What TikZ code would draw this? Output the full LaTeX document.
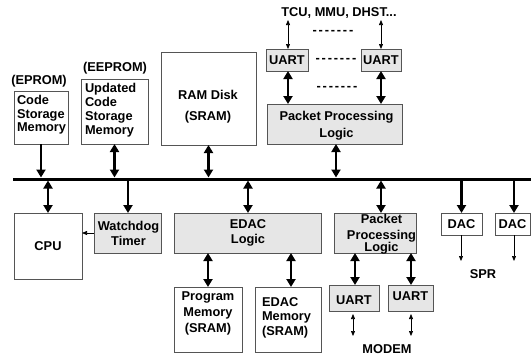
\documentclass[tikz,border=0pt]{standalone}
\usepackage{fontspec}
\setmainfont{Liberation Sans}[Ligatures=TeXOff]
\usetikzlibrary{arrows.meta,calc}
\definecolor{boxline}{HTML}{555555}
\definecolor{boxfill}{HTML}{E6E6E6}
\newcommand\hyrow{-\kern1.8pt-\kern1.8pt-\kern1.8pt-\kern1.8pt-\kern1.8pt-\kern1.8pt-}

\begin{document}
\begin{tikzpicture}[x=1pt,y=-1pt,
  every node/.style={font=\bfseries\fontsize{12.8}{13.5}\selectfont, inner sep=0pt, outer sep=0pt},
  box/.style={draw=boxline, line width=0.8pt, fill=white},
  gbox/.style={box, fill=boxfill},
  txt/.style={align=left},
  ctxt/.style={align=center},
  big/.style={line width=2.5pt, -{Triangle[width=9pt,length=8pt]}},
  bigdbl/.style={line width=2.5pt, {Triangle[width=9pt,length=8pt]}-{Triangle[width=9pt,length=8pt]}},
  thin/.style={line width=0.7pt, -{Triangle[width=4pt,length=5pt]}},
  thindbl/.style={line width=0.7pt, {Triangle[width=4pt,length=5pt]}-{Triangle[width=4pt,length=5pt]}},
  atbus/.style={shorten >=1.5pt},
  frombus/.style={shorten <=1.5pt}]
\useasboundingbox (0,0) rectangle (531,357);

% system bus
\coordinate (busW) at (13,179);
\coordinate (busE) at (531,179);
\draw[line width=3pt] (busW) -- (busE);

% ---------- upper side ----------
\node (eprom) at (39,81) {(EPROM)};
\node[box, minimum width=54pt, minimum height=53pt] (csm) at (41,117.5) {};
\node[txt, anchor=north west] (csmT) at (17,95.5) {Code\\Storage\\Memory};

\node (eeprom) at (115,68) {(EEPROM)};
\node[box, minimum width=67pt, minimum height=65pt] (ucsm) at (114.5,111.5) {};
\node[txt, anchor=north west, font=\bfseries\fontsize{12.8}{13.8}\selectfont] (ucsmT) at (85,83.5) {Updated\\Code\\Storage\\Memory};

\node[box, minimum width=95pt, minimum height=93pt] (ram) at (208.5,98.5) {};
\node[ctxt, font=\bfseries\fontsize{12.8}{21}\selectfont] (ramT) at (208,106.5) {RAM Disk\\(SRAM)};

\node (tcu) at (339,13) {TCU, MMU, DHST...};
\node (dashA) at (333,32) {\hyrow};
\node[gbox, minimum width=42pt, minimum height=22pt] (uartA) at (287,60) {UART};
\node (dashB) at (336,60) {\hyrow};
\node[gbox, minimum width=40pt, minimum height=22pt] (uartB) at (381,60) {UART};
\node (dashC) at (337,88) {\hyrow};
\node[gbox, minimum width=135pt, minimum height=40pt] (ppl) at (334.5,124) {};
\node[ctxt, font=\bfseries\fontsize{12.8}{17}\selectfont] (pplT) at (336.5,125.5) {Packet Processing\\Logic};

\coordinate (tcuA) at (288,20);
\coordinate (tcuB) at (381,20);
\draw[thindbl] (tcuA |- uartA.north) -- (tcuA);
\draw[thindbl] (tcuB |- uartB.north) -- (tcuB);
\draw[bigdbl] ([xshift=1pt]uartA.south) -- ([xshift=1pt]uartA.south |- ppl.north);
\draw[bigdbl] (uartB.south) -- (uartB.south |- ppl.north);

\draw[big, atbus] (csm.south) -- (csm.south |- busW);
\draw[bigdbl, atbus] (ucsm.south) -- (ucsm.south |- busW);
\draw[bigdbl, atbus] (ram.south) -- (ram.south |- busW);
\draw[bigdbl, atbus] ([xshift=1.5pt]ppl.south) -- ([xshift=1.5pt]ppl.south |- busW);

% ---------- lower side ----------
\node[box, minimum width=68pt, minimum height=66pt] (cpu) at (48,246) {CPU};
\node[gbox, minimum width=67pt, minimum height=40pt] (wdt) at (127.5,233) {};
\node[ctxt, font=\bfseries\fontsize{12.8}{15}\selectfont] (wdtT) at (128.5,233.5) {Watchdog\\Timer};
\node[gbox, minimum width=147pt, minimum height=40pt] (edac) at (247.5,233) {};
\node[ctxt, font=\bfseries\fontsize{12.8}{15}\selectfont] (edacT) at (248,232.5) {EDAC\\Logic};
\node[box, minimum width=68pt, minimum height=65pt] (pm) at (208,319.5) {};
\node[ctxt, font=\bfseries\fontsize{12.8}{16}\selectfont] (pmT) at (208,313.5) {Program\\Memory\\(SRAM)};
\node[box, minimum width=66pt, minimum height=65pt] (em) at (288,319.5) {};
\node[txt, anchor=north west, font=\bfseries\fontsize{12.8}{14.5}\selectfont] (emT) at (262,297.4) {EDAC\\Memory\\(SRAM)};

\node[gbox, minimum width=82pt, minimum height=40pt] (ppl2) at (375,233) {};
\node[ctxt, anchor=north] (ppl2T) at (381.5,213.8) {Packet\\[3.2pt]Processing\\[-1.5pt]Logic};
\node[gbox, minimum width=50pt, minimum height=26pt] (uartC) at (354,298) {};
\node (uartCT) at (354,300) {UART};
\node[gbox, minimum width=45pt, minimum height=26pt] (uartD) at (410.5,298) {};
\node (uartDT) at (410.5,296) {UART};
\node (modem) at (387,349) {MODEM};

\node[box, minimum width=41pt, minimum height=22pt] (dac1) at (461.5,224) {DAC};
\node[box, minimum width=35pt, minimum height=22pt] (dac2) at (512.5,224) {DAC};
\node (spr) at (483,274) {SPR};

\draw[bigdbl, frombus] (busW -| cpu.north) -- (cpu.north);
\draw[big, frombus] ([xshift=0.5pt]busW -| wdt.north) -- ([xshift=0.5pt]wdt.north);
\draw[thin] (wdt.west) -- (wdt.west -| cpu.east);
\draw[bigdbl, frombus] ([xshift=0.5pt]busW -| edac.north) -- ([xshift=0.5pt]edac.north);
\draw[bigdbl] (pm.north |- edac.south) -- (pm.north);
\draw[bigdbl] ([xshift=3pt]em.north |- edac.south) -- ([xshift=3pt]em.north);
\draw[bigdbl, frombus] ([xshift=6pt]busW -| ppl2.north) -- ([xshift=6pt]ppl2.north);
\draw[bigdbl] ([xshift=1pt]uartC.north |- ppl2.south) -- ([xshift=1pt]uartC.north);
\draw[bigdbl] ([xshift=0.5pt]uartD.north |- ppl2.south) -- ([xshift=0.5pt]uartD.north);

\coordinate (mdmC) at (353,336);
\coordinate (mdmD) at (411,336);
\draw[thindbl, shorten <=3pt] (mdmC |- uartC.south) -- (mdmC);
\draw[thindbl, shorten <=3pt] (mdmD |- uartD.south) -- (mdmD);

\draw[big, frombus] (busW -| dac1.north) -- (dac1.north);
\draw[big, frombus] ([xshift=1.5pt]busW -| dac2.north) -- ([xshift=1.5pt]dac2.north);
\coordinate (sprA) at (461,261);
\coordinate (sprB) at (514,261);
\draw[thin] (sprA |- dac1.south) -- (sprA);
\draw[thin] (sprB |- dac2.south) -- (sprB);
\end{tikzpicture}
\end{document}
